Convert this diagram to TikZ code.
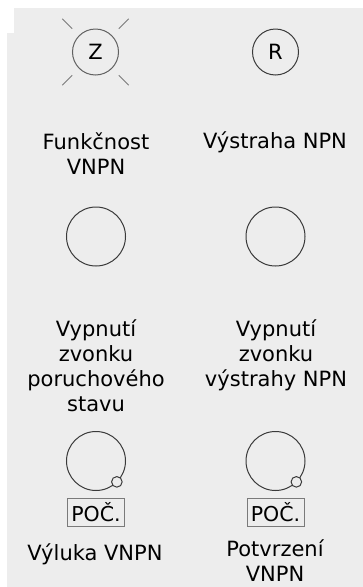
\documentclass[tikz,border=0pt]{standalone}
\usepackage{fontspec}
\setmainfont{DejaVu Sans}
\usetikzlibrary{positioning,calc}
\definecolor{panelgray}{HTML}{EDEDED}
\definecolor{rimgray}{HTML}{3A3A3A}
\definecolor{raygray}{HTML}{7A7A7A}
\edef\sizelamp{46pt}
\edef\sizebutton{59pt}
\tikzstyle{lamp}=[draw=rimgray,circle,line width=1pt,inner sep=0pt,minimum size=\sizelamp,font=\fontsize{21pt}{25pt}\selectfont]
\tikzstyle{button}=[draw=rimgray,circle,line width=1pt,inner sep=0pt,minimum size=\sizebutton]
\tikzstyle{knob}=[draw=rimgray,circle,line width=1pt,fill=panelgray,inner sep=0pt,minimum size=10.6pt]
\tikzstyle{tagbox}=[draw=raygray,line width=1pt,minimum width=57pt,minimum height=28pt,inner sep=0pt,font=\fontsize{20.5pt}{24pt}\selectfont]
\tikzstyle{caption}=[align=center,anchor=base,inner sep=0pt,font=\fontsize{21pt}{25pt}\selectfont]
\tikzstyle{ray}=[draw=raygray,line width=1pt]

\begin{document}
\begin{tikzpicture}[x=1pt,y=1pt]
	\useasboundingbox (0,0) rectangle (363,-587);
	\fill[panelgray] (14,-8) -- (363,-8) -- (363,-587) -- (7,-587) -- (7,-33) -- (14,-33) -- cycle;

	% first row: lamps
	\node[lamp,draw=rimgray!80] (z) at (95.5,-52) {Z};
	\node[lamp] (r) at (275.5,-52) {R};
	\foreach \a in {45,135,225,315}
		\draw[ray] ($(z.center)+(\a:33)$) -- ($(z.center)+(\a:47)$);
	\node[caption] (zt) at (96,-174) {Funkčnost\\VNPN};
	\node[caption] (rt) at (275,-148) {Výstraha NPN};

	% second row: bell buttons
	\node[button] (p) at (96,-236.5) {};
	\node[button] (q) at (275.5,-236.5) {};
	\node[caption] (pt) at (96,-411) {Vypnutí\\zvonku\\poruchového\\stavu};
	\node[caption] (qt) at (276,-386) {Vypnutí\\zvonku\\výstrahy NPN};

	% third row: counted buttons
	\node[button] (v) at (96,-461) {};
	\node[button] (w) at (275.5,-461) {};
	\node[knob] (vk) at ($(v.center)+(-45:29.5)$) {};
	\node[knob] (wk) at ($(w.center)+(-45:29.5)$) {};
	\node[tagbox, below=6.5pt of v] (vb) {POČ.};
	\node[tagbox, below=6.5pt of w] (wb) {POČ.};
	\node[caption] (vt) at (95,-560) {Výluka VNPN};
	\node[caption] (wt) at (275,-581.5) {Potvrzení\\VNPN};
\end{tikzpicture}
\end{document}
